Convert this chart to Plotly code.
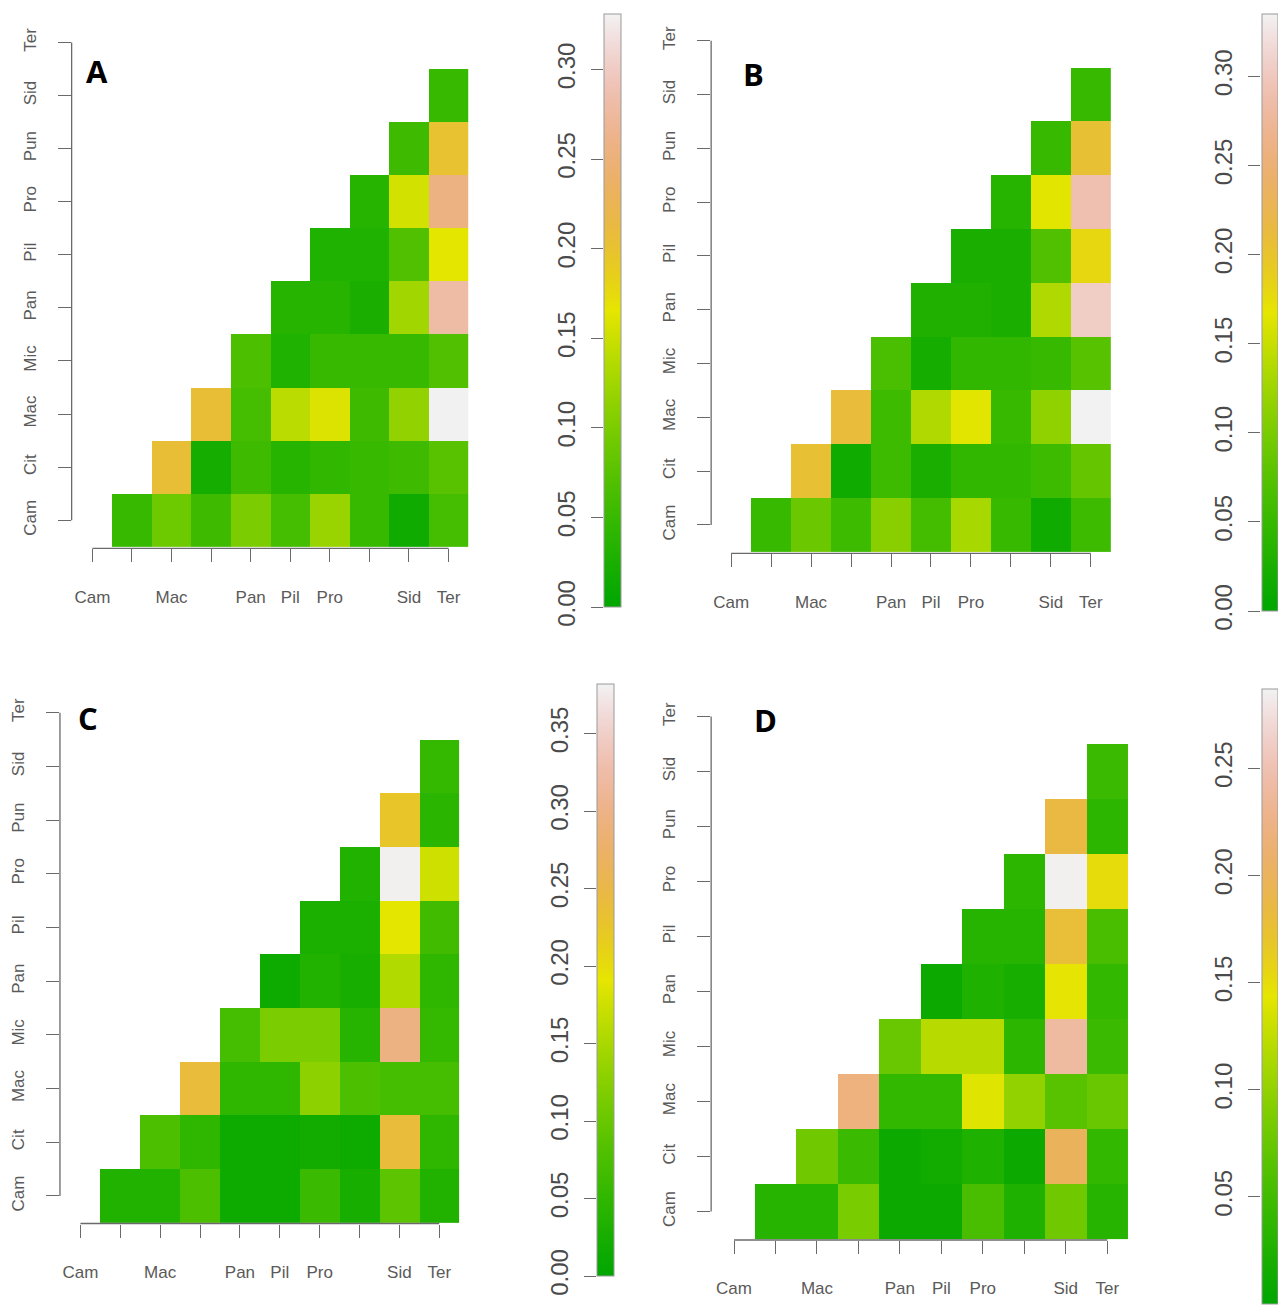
import colorsys
import plotly.graph_objects as go

# ---------------- data ----------------
pops = ["Cam", "Cit", "Mac", "Mic", "Pan", "Pil", "Pro", "Pun", "Sid", "Ter"]
x_tick_text = ["Cam", "", "Mac", "", "Pan", "Pil", "Pro", "", "Sid", "Ter"]

# upper-triangle rows: row i holds values for columns i+1 .. 9
fst_A = [
    [0.050, 0.090, 0.055, 0.100, 0.060, 0.120, 0.050, 0.015, 0.060],
    [0.205, 0.020, 0.055, 0.035, 0.045, 0.050, 0.055, 0.075],
    [0.205, 0.060, 0.140, 0.160, 0.055, 0.115, 0.330],
    [0.065, 0.030, 0.050, 0.050, 0.050, 0.070],
    [0.035, 0.035, 0.025, 0.125, 0.280],
    [0.030, 0.030, 0.070, 0.165],
    [0.035, 0.155, 0.256],
    [0.055, 0.200],
    [0.050],
]
fst_B = [
    [0.050, 0.090, 0.055, 0.110, 0.060, 0.130, 0.050, 0.015, 0.055],
    [0.205, 0.015, 0.055, 0.025, 0.045, 0.045, 0.055, 0.085],
    [0.210, 0.055, 0.135, 0.165, 0.050, 0.115, 0.335],
    [0.065, 0.020, 0.045, 0.045, 0.050, 0.075],
    [0.030, 0.030, 0.025, 0.135, 0.305],
    [0.025, 0.025, 0.070, 0.180],
    [0.035, 0.165, 0.290],
    [0.050, 0.205],
    [0.050],
]
fst_C = [
    [0.035, 0.035, 0.075, 0.015, 0.015, 0.060, 0.025, 0.090, 0.035],
    [0.075, 0.050, 0.015, 0.015, 0.020, 0.015, 0.240, 0.050],
    [0.240, 0.050, 0.050, 0.130, 0.075, 0.070, 0.070],
    [0.070, 0.115, 0.115, 0.040, 0.295, 0.055],
    [0.015, 0.035, 0.025, 0.155, 0.050],
    [0.030, 0.030, 0.190, 0.065],
    [0.035, 0.380, 0.175],
    [0.225, 0.045],
    [0.055],
]
fst_D = [
    [0.030, 0.030, 0.085, 0.010, 0.010, 0.055, 0.025, 0.080, 0.030],
    [0.080, 0.045, 0.010, 0.015, 0.025, 0.010, 0.200, 0.040],
    [0.220, 0.040, 0.040, 0.140, 0.100, 0.065, 0.075],
    [0.075, 0.120, 0.120, 0.035, 0.240, 0.045],
    [0.010, 0.025, 0.020, 0.145, 0.040],
    [0.030, 0.030, 0.178, 0.055],
    [0.035, 0.285, 0.150],
    [0.185, 0.035],
    [0.045],
]

zmax_A, zmax_B, zmax_C, zmax_D = 0.331, 0.335, 0.382, 0.287
cb_ticks_A = [0.00, 0.05, 0.10, 0.15, 0.20, 0.25, 0.30]
cb_ticks_B = [0.00, 0.05, 0.10, 0.15, 0.20, 0.25, 0.30]
cb_ticks_C = [0.00, 0.05, 0.10, 0.15, 0.20, 0.25, 0.30, 0.35]
cb_ticks_D = [0.05, 0.10, 0.15, 0.20, 0.25]
letters = ["A", "B", "C", "D"]

# ---------------- style ----------------
W, H = 1278, 1309
AX_COL = "#6a6a6a"
TXT_COL = "#5a5a5a"
CB_TXT = "#4a4a4a"


def terrain(u):
    if u <= 0.5:
        t = u / 0.5
        h, s, v = 1 / 3 - t / 6, 1.0, 0.65 + 0.25 * t
    else:
        t = (u - 0.5) / 0.5
        h, s, v = (1 / 6) * (1 - t), 1 - t, 0.9 + 0.05 * t
    r, g, b = colorsys.hsv_to_rgb(h, s, v)
    return "rgb(%d,%d,%d)" % (round(r * 255), round(g * 255), round(b * 255))


terrain_scale = [[i / 40, terrain(i / 40)] for i in range(41)]

# layout geometry in pixels (panel positions)
geo = [
    dict(x0=92.5, dx=39.6, yline=71.7, y0=520.3, dy=53.1, xline=548.3,
         cbl=604, cbw=17, cbt=14, cbb=607, let=(96.7, 70.5)),
    dict(x0=731.7, dx=40.0, yline=711.7, y0=525.0, dy=53.8, xline=553.3,
         cbl=1262, cbw=16, cbt=14, cbb=611, let=(754, 74)),
    dict(x0=80.5, dx=39.9, yline=60.0, y0=1196.0, dy=53.7, xline=1223.5,
         cbl=597, cbw=17, cbt=684, cbb=1276, let=(88, 718)),
    dict(x0=734.6, dx=41.5, yline=711.7, y0=1211.6, dy=55.0, xline=1240,
         cbl=1262, cbw=16, cbt=689, cbb=1304, let=(766, 720)),
]

fsts = [fst_A, fst_B, fst_C, fst_D]
zmaxs = [zmax_A, zmax_B, zmax_C, zmax_D]
cbticks = [cb_ticks_A, cb_ticks_B, cb_ticks_C, cb_ticks_D]

fig = go.Figure()
layout = dict(width=W, height=H, autosize=False, margin=dict(l=0, r=0, t=0, b=0, pad=0),
              paper_bgcolor="white", plot_bgcolor="rgba(0,0,0,0)",
              showlegend=False, font=dict(family="Liberation Sans, Arial, sans-serif"))
shapes, annotations = [], []
n = len(pops)


def sfx(i):
    return "" if i == 1 else str(i)


for k in range(4):
    g = geo[k]
    rows = fsts[k]
    Z = [[None] * n for _ in range(n)]
    for i, row in enumerate(rows):
        for m, val in enumerate(row):
            Z[i][i + 1 + m] = val
    ax_i = k + 1
    cb_i = k + 5
    xs = "x" + sfx(ax_i)
    ys = "y" + sfx(ax_i)

    fig.add_trace(go.Heatmap(
        z=Z, x=pops, y=pops, zmin=0, zmax=zmaxs[k], colorscale=terrain_scale,
        xaxis=xs, yaxis=ys, hoverongaps=False,
        colorbar=dict(x=g["cbl"] / W, xanchor="left", xpad=0, ypad=0,
                      y=1 - g["cbb"] / H, yanchor="bottom",
                      len=(g["cbb"] - g["cbt"]) / H, lenmode="fraction",
                      thickness=g["cbw"], thicknessmode="pixels",
                      outlinewidth=1, outlinecolor="#9a9a9a",
                      ticks="", showticklabels=False),
    ))
    # empty trace so that the colorbar label axis gets drawn
    fig.add_trace(go.Scatter(x=[], y=[], xaxis="x%d" % cb_i, yaxis="y%d" % cb_i,
                             showlegend=False, hoverinfo="skip"))

    xright = g["x0"] + 9.5 * g["dx"]
    ytop = g["y0"] - 9.53 * g["dy"]
    layout["xaxis" + sfx(ax_i)] = dict(
        domain=[g["yline"] / W, xright / W],
        range=[(g["yline"] - g["x0"]) / g["dx"], 9.5], automargin=False,
        anchor=ys, type="category", showgrid=False, zeroline=False, showline=False,
        ticks="outside", ticklen=13, tickwidth=1.3, tickcolor=AX_COL,
        tickmode="array", tickvals=pops, ticktext=x_tick_text,
        tickfont=dict(size=17, color=TXT_COL), ticklabelstandoff=20,
    )
    layout["yaxis" + sfx(ax_i)] = dict(
        domain=[1 - g["xline"] / H, 1 - ytop / H],
        range=[(g["y0"] - g["xline"]) / g["dy"], 9.53], automargin=False,
        anchor=xs, type="category", showgrid=False, zeroline=False, showline=False,
        ticks="outside", ticklen=13, tickwidth=1.3, tickcolor=AX_COL,
        tickmode="array", tickvals=pops, ticktext=pops, tickangle=-90,
        tickfont=dict(size=17, color=TXT_COL), ticklabelstandoff=15,
    )
    # R-style axis lines spanning first to last tick
    shapes.append(dict(type="line", xref=xs, yref=ys + " domain",
                       x0=pops[0], x1=pops[-1], y0=0, y1=0,
                       line=dict(color=AX_COL, width=1.3)))
    shapes.append(dict(type="line", xref=xs + " domain", yref=ys,
                       x0=0, x1=0, y0=pops[0], y1=pops[-1],
                       line=dict(color=AX_COL, width=1.3)))

    # colorbar label axis (left side of the bar)
    layout["xaxis%d" % cb_i] = dict(
        domain=[g["cbl"] / W, (g["cbl"] + g["cbw"]) / W], anchor="y%d" % cb_i,
        visible=False, range=[0, 1], automargin=False)
    layout["yaxis%d" % cb_i] = dict(
        domain=[1 - g["cbb"] / H, 1 - g["cbt"] / H], anchor="x%d" % cb_i,
        range=[0, zmaxs[k]], side="left", showgrid=False, zeroline=False, automargin=False,
        showline=False, ticks="outside", ticklen=12, tickwidth=1.3, tickcolor=AX_COL,
        tickmode="array", tickvals=cbticks[k], ticktext=["%.2f" % v for v in cbticks[k]],
        tickangle=-90, tickfont=dict(size=24, color=CB_TXT), ticklabelstandoff=6,
    )

    annotations.append(dict(text="<b>%s</b>" % letters[k], xref="paper", yref="paper",
                            x=g["let"][0] / W, y=1 - g["let"][1] / H,
                            xanchor="center", yanchor="middle", showarrow=False,
                            font=dict(size=31, color="black",
                                      family="Open Sans, Liberation Sans, sans-serif")))

layout["shapes"] = shapes
layout["annotations"] = annotations
fig.update_layout(**layout)
fig.write_html("out.html",
               config={"displayModeBar": False, "responsive": False},
               post_script="document.body.style.margin='0px';")
